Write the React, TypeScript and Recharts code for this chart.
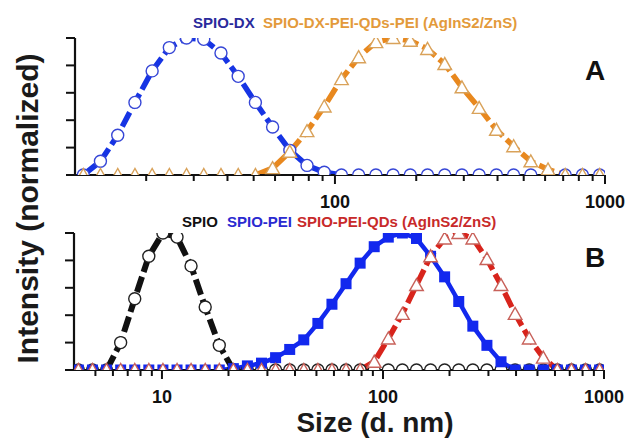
import { Line, LineChart, XAxis, YAxis } from "recharts";

// DLS size bins (d. nm) shown in panel A
const sizeA = [
  11.7, 13.54, 15.69, 18.17, 21.04, 24.36, 28.21, 32.67, 37.84, 43.82, 50.75, 58.77, 68.06, 78.82, 91.28, 105.7,
  122.4, 141.8, 164.2, 190.1, 220.2, 255.0, 295.3, 342.0, 396.1, 458.7, 531.2, 615.1, 712.4, 825.0, 955.4,
];
const spioDx = [
  0, 10, 29, 53, 76, 93, 100, 99, 89, 72, 53, 35, 18, 7, 2, 0,
  0, 0, 0, 0, 0, 0, 0, 0, 0, 0, 0, 0, 0, 0, 0,
];
const spioDxQd = [
  0, 0, 0, 0, 0, 0, 0, 0, 0, 0, 0, 5, 17, 32, 50, 70,
  86, 97, 100, 98, 92, 81, 64, 49, 33, 21, 10, 4, 0, 0, 0,
];

// panel B bins
const sizeB = [
  4.187, 4.849, 5.615, 6.503, 7.531, 8.721, 10.1, 11.7, 13.54, 15.69, 18.17, 21.04, 24.36, 28.21, 32.67, 37.84,
  43.82, 50.75, 58.77, 68.06, 78.82, 91.28, 105.7, 122.4, 141.8, 164.2, 190.1, 220.2, 255.0, 295.3, 342.0, 396.1,
  458.7, 531.2, 615.1, 712.4, 825.0, 955.4,
];
const spio = [
  0, 0, 0, 20, 52, 83, 100, 97, 76, 46, 18, 0, 0, 0, 0, 0,
  0, 0, 0, 0, 0, 0, 0, 0, 0, 0, 0, 0, 0, 0, 0, 0,
  0, 0, 0, 0, 0, 0,
];
const spioPei = [
  0, 0, 0, 0, 0, 0, 0, 0, 0, 0, 0, 1, 3, 5, 9, 15,
  22, 34, 48, 63, 78, 90, 97, 100, 96, 83, 68, 50, 32, 18, 6, 0,
  0, 0, 0, 0, 0, 0,
];
const spioPeiQd = [
  0, 0, 0, 0, 0, 0, 0, 0, 0, 0, 0, 0, 0, 0, 0, 0,
  0, 0, 0, 0, 0, 6, 23, 41, 62, 83, 96, 100, 96, 81, 62, 41,
  23, 9, 0, 0, 0, 0,
];

const ticksA = [20, 30, 40, 50, 60, 70, 80, 90, 100, 200, 300, 400, 500, 600, 700, 800, 900, 1000];
const ticksB = [5, 6, 7, 8, 9, 10, 20, 30, 40, 50, 60, 70, 80, 90, 100, 200, 300, 400, 500, 600, 700, 800, 900, 1000];
const majorTicks = [10, 100, 1000];
const yTicks = [0, 20, 40, 60, 80, 100];

// the curve is only drawn where the peak is, zeros far from it stay as bare markers
const curveOf = (v: number[]) => v.map((y, i) => (y > 0 || v[i - 1] > 0 || v[i + 1] > 0 ? y : null));

const dataA = sizeA.map((size, i) => ({
  size,
  dx: spioDx[i],
  dxCurve: curveOf(spioDx)[i],
  qd: spioDxQd[i],
  qdCurve: curveOf(spioDxQd)[i],
}));

const dataB = sizeB.map((size, i) => ({
  size,
  spio: spio[i],
  spioCurve: curveOf(spio)[i],
  pei: spioPei[i],
  peiCurve: curveOf(spioPei)[i],
  qd: spioPeiQd[i],
  qdCurve: curveOf(spioPeiQd)[i],
}));

function SizeTick(props: any) {
  const { x, y, payload } = props;
  const major = majorTicks.includes(payload.value);
  return (
    <g>
      <line x1={x} y1={y} x2={x} y2={y + (major ? 9 : 6)} stroke="#111" strokeWidth={2} />
      {major && (
        <text x={x} y={y + 33} textAnchor="middle" fontSize={18} fontWeight="bold" fill="#111">
          {payload.value}
        </text>
      )}
    </g>
  );
}

const noLabel = () => <g />;

const circle = (color: string) => (p: any) => (
  <circle key={`c-${p.index}`} cx={p.cx} cy={p.cy} r={6} fill="#fff" stroke={color} strokeWidth={1.4} />
);
const triangle = (color: string) => (p: any) => (
  <polygon
    key={`t-${p.index}`}
    points={`${p.cx},${p.cy - 6.5} ${p.cx - 6.8},${p.cy + 5.5} ${p.cx + 6.8},${p.cy + 5.5}`}
    fill="#fff"
    stroke={color}
    strokeWidth={1.4}
  />
);
const square = (color: string) => (p: any) => (
  <rect key={`s-${p.index}`} x={p.cx - 5.5} y={p.cy - 5.5} width={11} height={11} fill={color} />
);

const axisLine = { stroke: "#111", strokeWidth: 2.2 };

function Panel({ data, domain, ticks, height, margin, yWidth, children }: any) {
  return (
    <LineChart width={631} height={height} data={data} margin={margin}>
      <XAxis
        dataKey="size"
        type="number"
        scale="log"
        domain={domain}
        allowDataOverflow
        ticks={ticks}
        interval={0}
        tickLine={false}
        tickSize={0}
        tickMargin={0}
        tick={SizeTick}
        axisLine={axisLine}
        height={height - margin.top - 137}
      />
      <YAxis
        type="number"
        domain={[0, 100]}
        allowDataOverflow
        ticks={yTicks}
        interval={0}
        tick={noLabel}
        tickSize={9}
        tickLine={{ stroke: "#111", strokeWidth: 2 }}
        axisLine={axisLine}
        width={yWidth}
      />
      {children}
    </LineChart>
  );
}

export default function App() {
  const font = "Arial, 'Liberation Sans', sans-serif";
  return (
    <div style={{ position: "absolute", left: 0, top: 0, width: 631, height: 441, background: "#fff", fontFamily: font }}>
      <div style={{ position: "absolute", left: 0, top: 0 }}>
        <Panel data={dataA} domain={[10.9, 1000]} ticks={ticksA} height={215} margin={{ top: 38, right: 26, bottom: 0, left: 0 }} yWidth={75}>
          <Line dataKey="dxCurve" stroke="#1634e4" strokeWidth={5.5} strokeDasharray="16 5" dot={false} isAnimationActive={false} />
          <Line dataKey="dx" stroke="none" dot={circle("#3646d6")} isAnimationActive={false} />
          <Line dataKey="qdCurve" stroke="#e8881e" strokeWidth={5.5} strokeDasharray="16 5" dot={false} isAnimationActive={false} />
          <Line dataKey="qd" stroke="none" dot={triangle("#d9a25a")} isAnimationActive={false} />
        </Panel>
      </div>
      <div style={{ position: "absolute", left: 0, top: 215 }}>
        <Panel data={dataB} domain={[4, 1000]} ticks={ticksB} height={226} margin={{ top: 18, right: 27, bottom: 0, left: 0 }} yWidth={74}>
          <Line dataKey="spioCurve" stroke="#111" strokeWidth={6} strokeDasharray="16 5" dot={false} isAnimationActive={false} />
          <Line dataKey="spio" stroke="none" dot={circle("#222")} isAnimationActive={false} />
          <Line dataKey="peiCurve" stroke="#1228ee" strokeWidth={4.5} dot={false} isAnimationActive={false} />
          <Line dataKey="pei" stroke="none" dot={square("#1228ee")} isAnimationActive={false} />
          <Line dataKey="qdCurve" stroke="#d8241c" strokeWidth={5.5} strokeDasharray="16 5" dot={false} isAnimationActive={false} />
          <Line dataKey="qd" stroke="none" dot={triangle("#c8615a")} isAnimationActive={false} />
        </Panel>
      </div>
      <svg width={631} height={441} style={{ position: "absolute", left: 0, top: 0, pointerEvents: "none" }} fontFamily={font} fontWeight="bold">
        <text x={193} y={27.5} fontSize={15} fill="#2a2a9c">SPIO-DX</text>
        <text x={263} y={27.5} fontSize={15} fill="#e39a3b">SPIO-DX-PEI-QDs-PEI (AgInS2/ZnS)</text>
        <text x={182} y={226.5} fontSize={15} fill="#111">SPIO</text>
        <text x={227} y={226.5} fontSize={15} fill="#2a2ad0">SPIO-PEI</text>
        <text x={297} y={226.5} fontSize={15} fill="#c82a2a">SPIO-PEI-QDs (AgInS2/ZnS)</text>
        <text x={595} y={80} fontSize={28} textAnchor="middle" fill="#111">A</text>
        <text x={595} y={267} fontSize={28} textAnchor="middle" fill="#111">B</text>
        <text x={38} y={208.5} fontSize={30} textAnchor="middle" fill="#1a1a1a" transform="rotate(-90 38 208.5)">
          Intensity (normalized)
        </text>
        <text x={375} y={432} fontSize={28} textAnchor="middle" fill="#1a1a1a">Size (d. nm)</text>
      </svg>
    </div>
  );
}
